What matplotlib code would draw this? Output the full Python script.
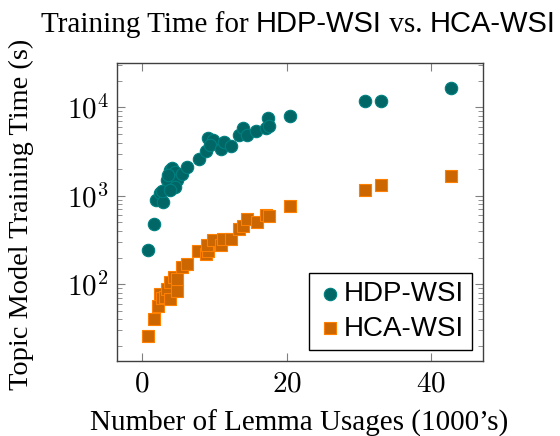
import numpy as np
import matplotlib.pyplot as plt
from matplotlib.ticker import FixedLocator, FixedFormatter, LogLocator, NullFormatter

plt.rcParams['mathtext.fontset'] = 'cm'

# HDP-WSI: lemma usages (1000's) vs training time (s)
hdp_x = [0.87, 1.66, 1.94, 2.49, 2.86, 2.72, 3.4, 3.87, 4.1, 4.56, 4.8, 4.56, 3.87, 3.6,
         5.49, 6.27, 7.88, 8.85, 9.17, 9.86, 9.4, 10.9, 11.34, 12.27, 13.46, 14.0, 14.5,
         15.77, 17.1, 17.5, 17.56, 20.5, 30.9, 33.1, 42.8]
hdp_y = [245, 480, 900, 1070, 840, 1120, 1510, 1960, 2050, 1880, 1515, 1270, 1170, 1700,
         1770, 2090, 2620, 3170, 4470, 4290, 3770, 3400, 4100, 3670, 4900, 5900, 4900,
         5420, 5900, 7560, 6200, 7900, 11700, 11900, 16500]

# HCA-WSI
hca_x = [0.87, 1.66, 2.26, 2.49, 2.72, 3.18, 3.4, 3.87, 3.87, 4.43, 4.88, 4.8, 5.49, 6.27,
         7.79, 8.85, 9.17, 8.95, 9.86, 10.9, 11.16, 12.27, 13.46, 13.92, 14.5, 15.86,
         17.1, 17.56, 20.5, 30.9, 33.1, 42.8]
hca_y = [26, 40, 56, 78, 69, 72, 89, 68, 106, 121, 84, 115, 155, 169,
         240, 220, 235, 280, 313, 280, 325, 325, 424, 450, 540, 505,
         600, 585, 770, 1170, 1320, 1680]

teal_edge, teal_fill = '#008080', '#006666'
orange_edge, orange_fill = '#ff8000', '#cc6600'

fig = plt.figure(figsize=(5.6, 4.36), dpi=100)
ax = fig.add_axes([0.209, 0.172, 0.6535, 0.683])

ax.scatter(hdp_x, hdp_y, s=80, marker='o', color=teal_fill, edgecolor=teal_edge,
           linewidth=0.8, label='HDP-WSI', zorder=3)
ax.scatter(hca_x, hca_y, s=75, marker='s', color=orange_fill, edgecolor=orange_edge,
           linewidth=0.8, label='HCA-WSI', zorder=3)

ax.set_yscale('log')
ax.set_xlim(-3.46, 47.2)
ax.set_ylim(10**1.13, 10**4.5)

ax.xaxis.set_major_locator(FixedLocator([0, 20, 40]))
ax.xaxis.set_major_formatter(FixedFormatter(['$0$', '$20$', '$40$']))
ax.yaxis.set_major_locator(FixedLocator([1e2, 1e3, 1e4]))
ax.yaxis.set_major_formatter(FixedFormatter(['$10^2$', '$10^3$', '$10^4$']))
ax.yaxis.set_minor_locator(LogLocator(base=10, subs=np.arange(2, 10)))
ax.yaxis.set_minor_formatter(NullFormatter())

ax.tick_params(which='both', direction='in', top=True, right=True, color='#808080')
ax.tick_params(which='major', length=6, labelsize=21, pad=6)
ax.tick_params(which='minor', length=3.5)
for sp in ax.spines.values():
    sp.set_color('#404040')
    sp.set_linewidth(1.0)

ax.set_xlabel('Number of Lemma Usages (1000’s)', family='Liberation Serif', fontsize=21)
ax.set_ylabel('Topic Model Training Time (s)', family='Liberation Serif', fontsize=20.4)
ax.xaxis.set_label_coords(0.498, -0.164)
ax.yaxis.set_label_coords(-0.226, 0.492)

leg = ax.legend(loc='lower right', prop={'family': 'Liberation Sans', 'size': 20},
                frameon=True, fancybox=False, edgecolor='black', framealpha=1,
                handletextpad=0.05, borderpad=0.3, labelspacing=0.3, handlelength=0.9,
                borderaxespad=0.4)
leg.get_frame().set_linewidth(1.0)

# title mixes serif and sans pieces
pieces = [('Training Time for ', 'Liberation Serif'), ('HDP-WSI', 'Liberation Sans'),
          (' vs. ', 'Liberation Serif'), ('HCA-WSI', 'Liberation Sans')]
renderer = fig.canvas.get_renderer()
texts = []
for s, fam in pieces:
    t = fig.text(0, 1 - 32 / 436, s, family=fam, fontsize=21, va='baseline', ha='left')
    texts.append(t)
widths = [t.get_window_extent(renderer).width for t in texts]
total = sum(widths)
x0 = 298 - total / 2
for t, w in zip(texts, widths):
    t.set_x(x0 / fig.bbox.width)
    x0 += w

fig.savefig('out.png', dpi=100)
